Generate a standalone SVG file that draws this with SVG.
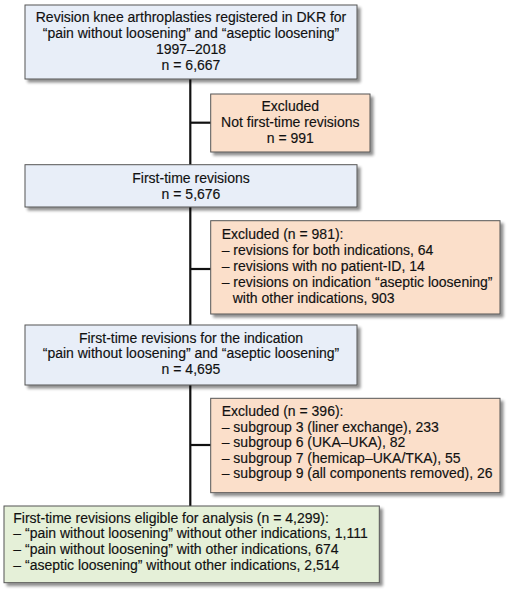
<svg xmlns="http://www.w3.org/2000/svg" width="511" height="594" viewBox="0 0 511 594">
<defs>
<filter id="sh" x="-10%" y="-10%" width="130%" height="140%">
<feGaussianBlur in="SourceAlpha" stdDeviation="1.6"/>
<feOffset dx="3" dy="3" result="b"/>
<feComponentTransfer><feFuncA type="linear" slope="0.45"/></feComponentTransfer>
<feMerge><feMergeNode/><feMergeNode in="SourceGraphic"/></feMerge>
</filter>
</defs>
<style>
.box{stroke:#555;stroke-width:1;filter:url(#sh)}
.blue{fill:#e8eef8}
.pink{fill:#fbdfca}
.green{fill:#e5f0d8}
text{font-family:"Liberation Sans",Arial,sans-serif;font-size:14px;fill:#111;stroke:#111;stroke-width:0.15}
.c{text-anchor:middle}
.conn{stroke:#111;stroke-width:2.2;fill:none}
</style>
<rect width="511" height="594" fill="#fff"/>
<g id="connectors">
<line class="conn" x1="190.3" y1="79" x2="190.3" y2="506"/>
<line class="conn" x1="190.3" y1="122.7" x2="211" y2="122.7"/>
<line class="conn" x1="190.3" y1="269" x2="211" y2="269"/>
<line class="conn" x1="190.3" y1="445" x2="211" y2="445"/>
</g>
<g id="n1">
<rect class="box blue" x="25" y="5" width="332" height="74"/>
<text class="c" x="191" y="22">Revision knee arthroplasties registered in DKR for</text>
<text class="c" x="191" y="38">“pain without loosening” and “aseptic loosening”</text>
<text class="c" x="191" y="54">1997–2018</text>
<text class="c" x="191" y="70">n = 6,667</text>
</g>
<g id="e1">
<rect class="box pink" x="210.7" y="94" width="159.3" height="58"/>
<text class="c" x="290.3" y="111">Excluded</text>
<text class="c" x="290.3" y="127">Not first-time revisions</text>
<text class="c" x="290.3" y="143">n = 991</text>
</g>
<g id="n2">
<rect class="box blue" x="25" y="164.7" width="332" height="42.3"/>
<text class="c" x="191" y="183">First-time revisions</text>
<text class="c" x="191" y="198.5">n = 5,676</text>
</g>
<g id="e2">
<rect class="box pink" x="210.7" y="220.7" width="289.3" height="93.3"/>
<text x="221.7" y="239.3">Excluded (n = 981):</text>
<text x="221.7" y="255">– revisions for both indications, 64</text>
<text x="221.7" y="270.7">– revisions with no patient-ID, 14</text>
<text x="221.7" y="286.7">– revisions on indication “aseptic loosening”</text>
<text x="232.7" y="302.7">with other indications, 903</text>
</g>
<g id="n3">
<rect class="box blue" x="25" y="325" width="332" height="60"/>
<text class="c" x="191" y="342.7">First-time revisions for the indication</text>
<text class="c" x="191" y="358.3">“pain without loosening” and “aseptic loosening”</text>
<text class="c" x="191" y="374.3">n = 4,695</text>
</g>
<g id="e3">
<rect class="box pink" x="210.7" y="398.3" width="289.3" height="94.4"/>
<text x="221.7" y="416">Excluded (n = 396):</text>
<text x="221.7" y="431.7">– subgroup 3 (liner exchange), 233</text>
<text x="221.7" y="447.3">– subgroup 6 (UKA–UKA), 82</text>
<text x="221.7" y="462.7">– subgroup 7 (hemicap–UKA/TKA), 55</text>
<text x="221.7" y="478.3">– subgroup 9 (all components removed), 26</text>
</g>
<g id="n4">
<rect class="box green" x="4" y="506" width="375.3" height="76.7"/>
<text x="13.3" y="523.3">First-time revisions eligible for analysis (n = 4,299):</text>
<text x="13.3" y="538.3">– “pain without loosening” without other indications, 1,111</text>
<text x="13.3" y="554">– “pain without loosening” with other indications, 674</text>
<text x="13.3" y="570">– “aseptic loosening” without other indications, 2,514</text>
</g>
</svg>
